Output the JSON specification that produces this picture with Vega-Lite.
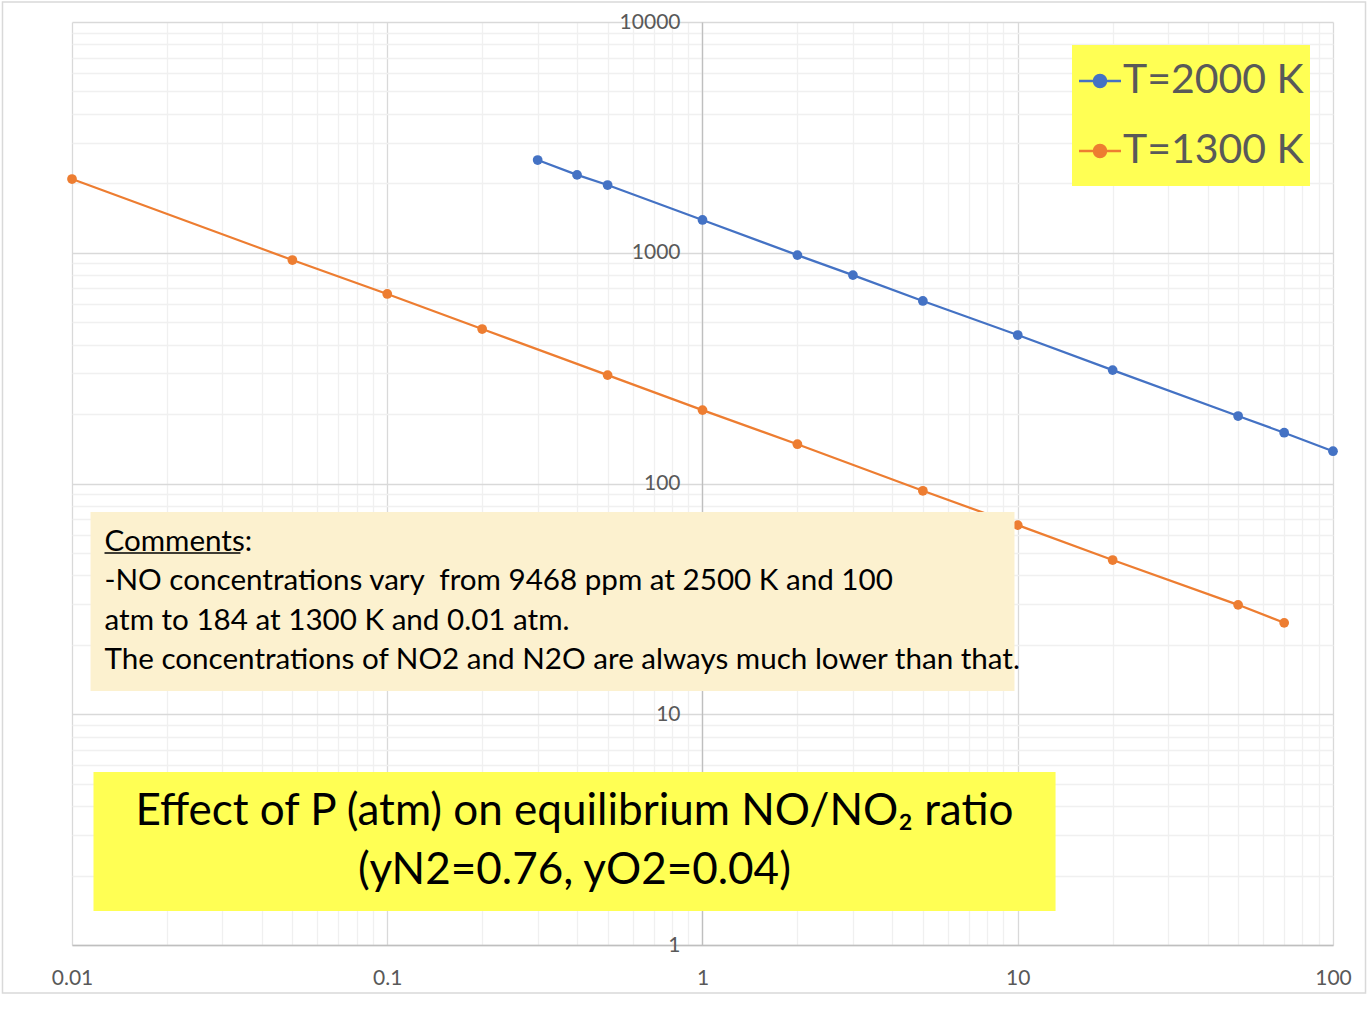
{
  "$schema": "https://vega.github.io/schema/vega-lite/v6.json",
  "width": 1261,
  "height": 923,
  "autosize": {"type": "none"},
  "padding": {"left": 72, "top": 22, "right": 39, "bottom": 79},
  "background": "white",
  "config": {
    "view": {"stroke": null},
    "font": "Lato",
    "axis": {
      "grid": true,
      "ticks": false,
      "tickSize": 0,
      "title": null,
      "labelFont": "Lato",
      "labelFontSize": 21,
      "labelColor": "#595959",
      "labelFlush": false,
      "labelOverlap": false,
      "domainColor": "#BFBFBF",
      "domainWidth": 1.3,
      "gridWidth": 1.3,
      "gridColor": {"condition": {"test": "abs(log(datum.value)/LN10 - round(log(datum.value)/LN10)) < 0.000001", "value": "#D9D9D9"}, "value": "#F0F0F0"},
      "labelExpr": "abs(log(datum.value)/LN10 - round(log(datum.value)/LN10)) < 0.000001 ? format(datum.value, '~g') : ''"
    }
  },
  "datasets": {
    "series": [
      {"P": 0.3, "NO": 2523, "T": "T=2000 K"},
      {"P": 0.4, "NO": 2175, "T": "T=2000 K"},
      {"P": 0.5, "NO": 1965, "T": "T=2000 K"},
      {"P": 1, "NO": 1387, "T": "T=2000 K"},
      {"P": 2, "NO": 977, "T": "T=2000 K"},
      {"P": 3, "NO": 800, "T": "T=2000 K"},
      {"P": 5, "NO": 618, "T": "T=2000 K"},
      {"P": 10, "NO": 440, "T": "T=2000 K"},
      {"P": 20, "NO": 310, "T": "T=2000 K"},
      {"P": 50, "NO": 196, "T": "T=2000 K"},
      {"P": 70, "NO": 166, "T": "T=2000 K"},
      {"P": 100, "NO": 138, "T": "T=2000 K"},
      {"P": 0.01, "NO": 2087, "T": "T=1300 K"},
      {"P": 0.05, "NO": 930, "T": "T=1300 K"},
      {"P": 0.1, "NO": 663, "T": "T=1300 K"},
      {"P": 0.2, "NO": 467, "T": "T=1300 K"},
      {"P": 0.5, "NO": 295, "T": "T=1300 K"},
      {"P": 1, "NO": 208, "T": "T=1300 K"},
      {"P": 2, "NO": 148, "T": "T=1300 K"},
      {"P": 5, "NO": 93, "T": "T=1300 K"},
      {"P": 10, "NO": 66, "T": "T=1300 K"},
      {"P": 20, "NO": 46.6, "T": "T=1300 K"},
      {"P": 50, "NO": 29.8, "T": "T=1300 K"},
      {"P": 70, "NO": 24.9, "T": "T=1300 K"}
    ]
  },
  "layer": [
    {
      "data": {"values": [{}]},
      "mark": {"type": "rect", "fillOpacity": 0, "stroke": "#D9D9D9", "strokeWidth": 1.5},
      "encoding": {
        "x": {"datum": 0.006019, "type": "quantitative"},
        "x2": {"datum": 126.8},
        "y": {"datum": 12210, "type": "quantitative"},
        "y2": {"datum": 0.6194}
      }
    },
    {
      "data": {"name": "series"},
      "mark": {"type": "line", "strokeWidth": 2.25, "point": {"filled": true, "size": 95}},
      "encoding": {
        "x": {
          "field": "P", "type": "quantitative",
          "scale": {"type": "log", "domain": [0.01, 100], "nice": false},
          "axis": {
            "orient": "bottom",
            "labelPadding": 22,
            "values": [0.01,0.02,0.03,0.04,0.05,0.06,0.07,0.08,0.09,0.1,0.2,0.3,0.4,0.5,0.6,0.7,0.8,0.9,1,2,3,4,5,6,7,8,9,10,20,30,40,50,60,70,80,90,100]
          }
        },
        "y": {
          "field": "NO", "type": "quantitative",
          "scale": {"type": "log", "domain": [1, 10000], "nice": false},
          "axis": {
            "orient": "left",
            "offset": -630,
            "labelPadding": 22,
            "labelAlign": "right",
            "labelBaseline": "middle",
            "values": [1,2,3,4,5,6,7,8,9,10,20,30,40,50,60,70,80,90,100,200,300,400,500,600,700,800,900,1000,2000,3000,4000,5000,6000,7000,8000,9000,10000]
          }
        },
        "color": {
          "field": "T", "type": "nominal",
          "scale": {"domain": ["T=2000 K", "T=1300 K"], "range": ["#4472C4", "#ED7D31"]},
          "legend": {
            "title": null,
            "orient": "top-right",
            "offset": 23,
            "fillColor": "#FFFF54",
            "padding": 6,
            "labelFont": "Lato",
            "labelFontSize": 41,
            "labelColor": "#595959",
            "labelLimit": 500,
            "labelOffset": -7,
            "rowPadding": 11,
            "symbolOffset": -8,
            "symbolType": "M-0.73,0L0.73,0M-0.209,0A0.209,0.209 0 1,0 0.209,0A0.209,0.209 0 1,0 -0.209,0ZM0,0.83L0,0.83",
            "symbolSize": 3306,
            "symbolStrokeWidth": 2.5,
            "encode": {"symbols": {"update": {"fill": {"scale": "color", "field": "value"}, "stroke": {"scale": "color", "field": "value"}}}}
          }
        }
      }
    },
    {
      "data": {"values": [{}]},
      "mark": {"type": "rect", "fill": "#FCF1CF"},
      "encoding": {
        "x": {"datum": 0.01145, "type": "quantitative"},
        "x2": {"datum": 9.765},
        "y": {"datum": 75.2, "type": "quantitative"},
        "y2": {"datum": 12.61}
      }
    },
    {
      "data": {"values": [{}]},
      "mark": {"type": "text", "align": "left", "baseline": "alphabetic", "font": "Lato", "fontSize": 29.6, "color": "#000000", "lineHeight": 39.3},
      "encoding": {
        "x": {"datum": 0.01268, "type": "quantitative"},
        "y": {"datum": 51.0, "type": "quantitative"},
        "text": {"value": ["Comments:", "-NO concentrations vary\u00a0 from 9468 ppm at 2500 K and 100", "atm to 184 at 1300 K and 0.01 atm.", "The concentrations of NO2 and N2O are always much lower than that."]}
      }
    },
    {
      "data": {"values": [{}]},
      "mark": {"type": "rule", "color": "#000000", "strokeWidth": 1.5},
      "encoding": {
        "x": {"datum": 0.01268, "type": "quantitative"},
        "x2": {"datum": 0.03423},
        "y": {"datum": 50.0, "type": "quantitative"}
      }
    },
    {
      "data": {"values": [{}]},
      "mark": {"type": "rect", "fill": "#FFFF54"},
      "encoding": {
        "x": {"datum": 0.0117, "type": "quantitative"},
        "x2": {"datum": 13.18},
        "y": {"datum": 5.62, "type": "quantitative"},
        "y2": {"datum": 1.404}
      }
    },
    {
      "data": {"values": [{}]},
      "mark": {"type": "text", "align": "center", "baseline": "alphabetic", "font": "Lato", "fontSize": 44, "color": "#000000", "lineHeight": 59},
      "encoding": {
        "x": {"datum": 0.3926, "type": "quantitative"},
        "y": {"datum": 3.311, "type": "quantitative"},
        "text": {"value": ["Effect of P (atm) on equilibrium NO/NO₂ ratio", "(yN2=0.76, yO2=0.04)"]}
      }
    }
  ]
}
